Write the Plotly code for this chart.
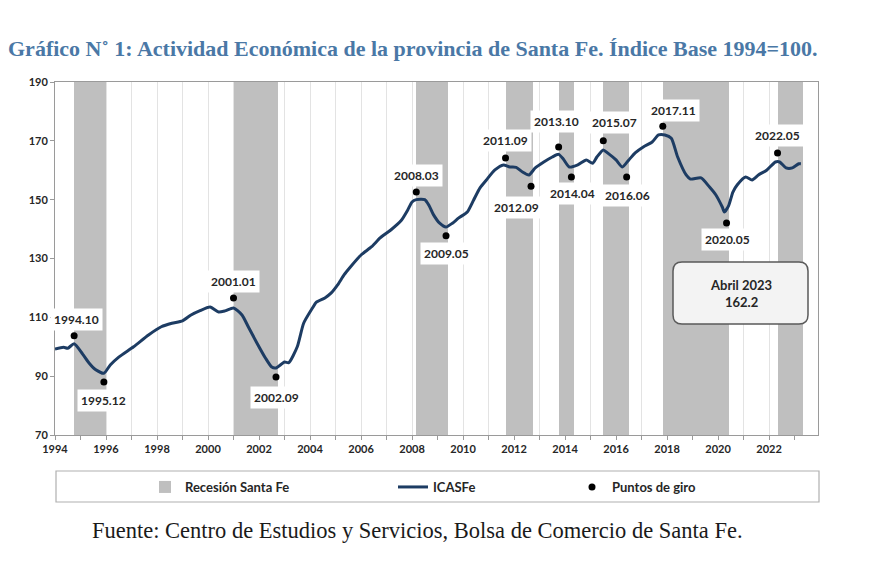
import plotly.graph_objects as go

# ---------------- data ----------------
icasfe_dates = [
    "1994-01", "1994-05", "1994-07", "1994-10", "1995-02", "1995-05", "1995-08", "1995-12",
    "1996-03", "1996-07", "1997-02", "1997-09", "1998-03", "1998-08", "1999-01", "1999-05",
    "1999-09", "2000-02", "2000-06", "2000-09", "2001-01", "2001-05", "2001-08", "2001-12",
    "2002-04", "2002-07", "2002-09", "2003-01", "2003-03", "2003-07", "2003-10", "2004-02",
    "2004-04", "2004-08", "2004-11", "2005-02", "2005-05", "2005-08", "2006-01", "2006-06",
    "2006-10", "2007-03", "2007-08", "2007-11", "2008-01", "2008-03", "2008-07", "2008-09",
    "2008-11", "2009-02", "2009-05", "2009-08", "2009-11", "2010-03", "2010-06", "2010-09",
    "2010-12", "2011-04", "2011-08", "2011-11", "2012-02", "2012-05", "2012-08", "2012-11",
    "2013-03", "2013-07", "2013-10", "2013-12", "2014-03", "2014-07", "2014-11", "2015-02",
    "2015-04", "2015-07", "2015-09", "2016-01", "2016-04", "2016-07", "2016-10", "2017-02",
    "2017-06", "2017-09", "2017-12", "2018-03", "2018-06", "2018-10", "2018-12", "2019-05",
    "2019-09", "2019-12", "2020-03", "2020-04", "2020-06", "2020-08", "2020-10", "2021-02",
    "2021-05", "2021-08", "2021-12", "2022-04", "2022-06", "2022-09", "2022-12", "2023-03",
    "2023-04",
]
icasfe_values = [
    99.2, 99.8, 99.5, 101.0, 97.5, 94.5, 92.3, 91.0,
    93.8, 96.5, 100.0, 104.0, 106.8, 108.0, 108.8, 110.8,
    112.2, 113.5, 111.8, 112.2, 113.2, 110.8, 106.7, 101.3,
    96.2, 93.1, 92.8, 94.8, 94.6, 100.0, 108.0, 113.0,
    115.2, 116.6, 118.3, 121.0, 124.4, 127.1, 131.2, 134.0,
    137.0, 139.7, 143.0, 146.5, 149.2, 150.0, 150.0, 148.0,
    145.0, 142.0, 140.7, 142.0, 143.8, 145.8, 149.9, 154.0,
    156.7, 160.1, 161.8, 161.1, 161.0, 159.4, 158.4, 160.8,
    162.8, 164.5, 165.4, 164.0, 161.1, 161.8, 163.5, 162.4,
    164.5, 166.9, 165.9, 163.5, 161.1, 163.5, 165.9, 168.0,
    169.6, 172.0, 172.0, 170.9, 164.5, 158.4, 157.0, 157.4,
    154.3, 151.6, 147.5, 145.8, 148.0, 152.6, 155.0, 157.7,
    156.7, 158.4, 160.1, 162.8, 162.8, 160.8, 160.8, 162.2,
    162.2,
]

turning_labels = ["1994.10", "1995.12", "2001.01", "2002.09", "2008.03", "2009.05",
                  "2011.09", "2012.09", "2013.10", "2014.04", "2015.07", "2016.06",
                  "2017.11", "2020.05", "2022.05"]
turning_values = [103.7, 88.0, 116.6, 89.7, 152.6, 137.7,
                  164.2, 154.6, 167.9, 157.7, 170.0, 157.7,
                  175.0, 142.1, 165.9]

recession_start = ["1994.10", "2001.01", "2008.03", "2011.09", "2013.10", "2015.07", "2017.11", "2022.05"]
recession_end = ["1995.12", "2002.09", "2009.05", "2012.09", "2014.04", "2016.06", "2020.05", "2023.04"]

x_tick_years = list(range(1994, 2023, 2))
y_ticks = [70, 90, 110, 130, 150, 170, 190]

last_period = "Abril 2023"
last_value = 162.2

# ---------------- styling ----------------
Y_MIN, Y_MAX = 70, 190
X_MIN, X_MAX = 1994, 2023.92
# pixel offsets of each turning-point label from its dot (dx, dy; dy positive = up)
label_offsets = [(2, 16), (0, -18), (0, 16), (0, -20), (0, 17), (0, -18),
                 (0, 17), (-15, -21), (-2, 26), (1, -16), (11, 18), (1, -18),
                 (11, 16), (1, -17), (0, 17)]

LINE_COLOR = "#1d3c63"
BAND_COLOR = "#bfbfbf"
GRID_COLOR = "#e3e3e3"
AXIS_COLOR = "#9a9a9a"
TEXT_COLOR = "#262626"
SANS = "Lato"
PAGE_OFF = 8  # default body margin of the html page


def to_year(s):
    sep = "-" if "-" in s else "."
    y, m = s.split(sep)
    return int(y) + (int(m) - 1) / 12.0


line_x = [to_year(d) for d in icasfe_dates]
dot_x = [to_year(d) for d in turning_labels]
band_x0 = [to_year(s) for s in recession_start]
band_x1 = [to_year(e) + 1 / 12.0 for e in recession_end]
band_mid = [(a + b) / 2 for a, b in zip(band_x0, band_x1)]
band_w = [b - a for a, b in zip(band_x0, band_x1)]

fig = go.Figure()

fig.add_trace(go.Bar(
    x=band_mid, y=[Y_MAX - Y_MIN] * len(band_mid), base=Y_MIN, width=band_w,
    marker=dict(color=BAND_COLOR, line=dict(width=0)),
    name="Recesión Santa Fe", legend="legend", hoverinfo="skip",
))
fig.add_trace(go.Scatter(
    x=line_x, y=icasfe_values, mode="lines",
    line=dict(color=LINE_COLOR, width=3, shape="spline", smoothing=0.6),
    name="ICASFe", legend="legend2",
))
fig.add_trace(go.Scatter(
    x=dot_x, y=turning_values, mode="markers",
    marker=dict(color="black", size=7),
    name="Puntos de giro", legend="legend3",
))

annotations = []
for lab, xv, yv, (dx, dy) in zip(turning_labels, dot_x, turning_values, label_offsets):
    annotations.append(dict(
        x=xv, y=yv, xref="x", yref="y", text=lab, showarrow=False,
        xshift=dx, yshift=dy, bgcolor="white", borderpad=3,
        font=dict(family=SANS, size=12, color=TEXT_COLOR, weight="bold"),
    ))

# plot-area geometry in screenshot pixels: left 55, right 818, top 82, bottom 435
SX0, SX1, SY0, SY1 = 55, 818, 82, 435
L, T = SX0 - PAGE_OFF, SY0 - PAGE_OFF
R, B = 870 - SX1 + PAGE_OFF, 580 - SY1 + PAGE_OFF
PW, PH = SX1 - SX0, SY1 - SY0


def px(xp):
    return (xp - SX0) / PW


def py(yp):
    return (SY1 - yp) / PH


# last-value callout box (rounded)
bx0, bx1, by0, by1 = px(673), px(808), py(324), py(262)
rx, ry = 9 / PW, 9 / PH
path = (f"M {bx0+rx},{by0} L {bx1-rx},{by0} Q {bx1},{by0} {bx1},{by0+ry} "
        f"L {bx1},{by1-ry} Q {bx1},{by1} {bx1-rx},{by1} L {bx0+rx},{by1} "
        f"Q {bx0},{by1} {bx0},{by1-ry} L {bx0},{by0+ry} Q {bx0},{by0} {bx0+rx},{by0} Z")
shapes = [
    dict(type="path", xref="paper", yref="paper", path=path,
         fillcolor="#f3f3f3", line=dict(color="#5a5a5a", width=1.5), layer="above"),
    dict(type="rect", xref="paper", yref="paper", x0=px(56), x1=px(819), y0=py(502), y1=py(471),
         line=dict(color="#b0b0b0", width=1.2), fillcolor="rgba(0,0,0,0)"),
]
annotations.append(dict(
    x=(bx0 + bx1) / 2, y=(by0 + by1) / 2, xref="paper", yref="paper", showarrow=False,
    xanchor="center", yanchor="middle",
    text=f"{last_period}<br>{last_value}", align="center",
    font=dict(family=SANS, size=13, color=TEXT_COLOR, weight="bold"),
))
annotations.append(dict(
    x=px(417), y=py(530), xref="paper", yref="paper", showarrow=False,
    xanchor="center", yanchor="middle",
    text="Fuente: Centro de Estudios y Servicios, Bolsa de Comercio de Santa Fe.",
    font=dict(family="Liberation Serif", size=22.5, color="#1a1a1a"),
))

legend_font = dict(family=SANS, size=13, color=TEXT_COLOR, weight="bold")
common_leg = dict(orientation="h", xanchor="left", yanchor="middle", y=py(487),
                  bgcolor="rgba(0,0,0,0)", font=legend_font, itemwidth=30)

fig.update_layout(
    width=870, height=580,
    margin=dict(l=L, r=R, t=T, b=B),
    paper_bgcolor="white", plot_bgcolor="white",
    title=dict(
        text="Gráfico N˚ 1: Actividad Económica de la provincia de Santa Fe. Índice Base 1994=100.",
        x=0.0, xanchor="left", y=1 - (48 - PAGE_OFF) / 580, yanchor="middle",
        font=dict(family="Liberation Serif", size=22, color="#4a78a6", weight="bold"),
    ),
    xaxis=dict(
        range=[X_MIN, X_MAX], tickvals=x_tick_years, ticktext=[str(v) for v in x_tick_years],
        showgrid=True, gridcolor=GRID_COLOR, gridwidth=1,
        minor=dict(dtick=1, tick0=1994, showgrid=True, gridcolor=GRID_COLOR,
                   ticks="outside", ticklen=4, tickcolor=AXIS_COLOR),
        ticks="outside", ticklen=4, tickcolor=AXIS_COLOR,
        showline=True, linecolor=AXIS_COLOR, linewidth=1, mirror=True,
        tickfont=dict(family=SANS, size=11, color=TEXT_COLOR, weight="bold"),
        zeroline=False,
    ),
    yaxis=dict(
        range=[Y_MIN, Y_MAX], tickvals=y_ticks, showgrid=False,
        ticks="outside", ticklen=4, tickcolor=AXIS_COLOR,
        showline=True, linecolor=AXIS_COLOR, linewidth=1, mirror=True,
        tickfont=dict(family=SANS, size=11, color=TEXT_COLOR, weight="bold"),
        zeroline=False,
    ),
    showlegend=True,
    legend=dict(common_leg, x=px(145)),
    legend2=dict(common_leg, x=px(393)),
    legend3=dict(common_leg, x=px(572)),
    annotations=annotations,
    shapes=shapes,
    bargap=0,
)

fig.write_html("out.html")
